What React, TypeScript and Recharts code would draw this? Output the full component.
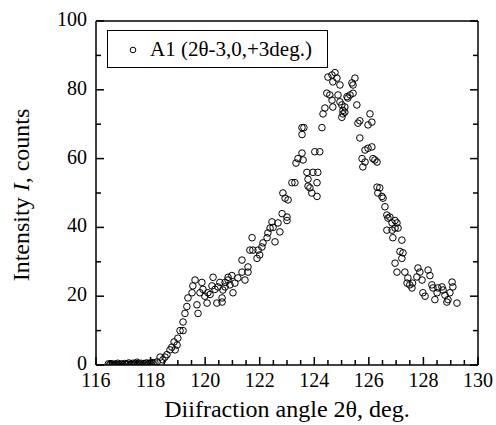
import { ScatterChart, Scatter, XAxis, YAxis, Legend, Label } from 'recharts'

type Pt = [number, number]

// 2theta (deg), counts
const baseline: Pt[] = [
  [116.45, 0.3], [116.5, 0.1], [116.55, 0.4], [116.6, 0.2], [116.65, 0.0], [116.7, 0.3],
  [116.75, 0.2], [116.8, 0.5], [116.85, 0.1], [116.9, 0.3], [116.95, 0.2], [117.0, 0.0],
  [117.05, 0.4], [117.1, 0.2], [117.15, 0.3], [117.2, 0.6], [117.25, 0.1], [117.3, 0.3],
  [117.35, 0.5], [117.4, 0.2], [117.45, 0.4], [117.5, 0.8], [117.55, 0.3], [117.6, 0.2],
  [117.65, 0.5], [117.7, 0.1], [117.75, 0.4], [117.8, 0.3], [117.85, 0.6], [117.9, 0.2],
  [117.95, 0.5], [118.0, 0.3], [118.05, 0.7], [118.1, 0.4],
]

const rise: Pt[] = [
  [118.16, 0.6], [118.24, 0.9], [118.35, 2.3], [118.45, 1.5], [118.53, 2.3], [118.6, 3.0],
  [118.71, 4.4], [118.78, 5.2], [118.86, 6.7], [118.9, 4.4], [118.97, 5.8], [119.0, 7.8],
  [119.08, 10.0], [119.19, 10.0], [119.19, 12.5], [119.26, 15.0], [119.33, 17.0], [119.37, 19.5],
]

const shoulder: Pt[] = [
  [119.52, 21.0], [119.55, 23.0], [119.63, 24.7], [119.7, 17.5], [119.74, 15.0], [119.81, 21.0],
  [119.88, 24.0], [119.92, 22.0], [119.99, 20.0], [120.07, 18.0], [120.1, 21.0], [120.18, 20.5],
  [120.25, 23.0], [120.29, 25.5], [120.36, 22.0], [120.43, 18.0], [120.47, 22.7], [120.54, 24.0],
  [120.62, 19.5], [120.65, 21.8], [120.73, 24.0], [120.84, 25.5], [120.91, 23.3], [120.98, 26.0],
]

const climb: Pt[] = [
  [120.62, 18.3], [120.73, 22.7], [120.84, 24.7], [121.02, 21.0], [121.09, 23.8], [121.2, 25.3],
  [121.35, 27.0], [121.46, 24.7], [121.57, 27.0], [121.57, 28.5], [121.35, 30.5], [121.72, 37.0],
  [121.64, 33.4], [121.75, 33.4], [121.9, 31.0], [122.0, 32.0], [121.94, 33.4], [122.08, 34.3],
  [122.12, 35.5], [122.27, 37.0], [122.3, 38.4], [122.38, 39.8], [122.45, 41.6], [122.49, 40.0],
  [122.56, 35.8], [122.67, 41.3], [122.74, 38.7], [122.82, 44.0], [123.0, 43.0], [123.0, 42.0],
  [122.93, 48.5], [123.04, 48.0], [122.85, 50.0], [123.18, 53.0], [123.29, 53.0], [123.33, 58.7],
  [123.4, 60.0],
]

const dip: Pt[] = [
  [123.55, 69.0], [123.62, 69.0], [123.55, 67.0], [123.59, 59.6], [123.55, 61.6], [123.73, 56.0],
  [123.95, 56.0], [124.13, 56.0], [123.77, 54.0], [123.84, 51.5], [123.91, 50.0], [124.1, 49.0],
  [124.1, 53.0], [123.77, 52.0],
]

const peak: Pt[] = [
  [124.28, 69.0], [124.02, 62.0], [124.2, 62.0], [124.32, 73.0], [124.39, 74.7], [124.46, 79.0],
  [124.57, 78.5], [124.68, 75.0], [124.5, 83.7], [124.65, 84.3], [124.76, 85.0], [124.83, 83.4],
  [124.68, 82.3], [124.94, 81.4], [124.87, 78.5], [124.65, 77.0], [124.94, 76.5], [125.01, 75.6],
  [125.05, 74.0], [125.12, 75.0], [125.2, 78.0], [125.23, 77.6], [125.31, 78.5], [125.38, 82.0],
  [125.42, 81.4], [125.49, 83.4], [125.42, 79.0], [125.56, 75.6], [125.05, 73.0], [125.01, 72.0],
  [125.12, 73.5],
]

const fall: Pt[] = [
  [125.6, 70.3], [125.67, 71.0], [125.67, 66.0], [125.75, 60.0], [125.78, 57.6], [125.86, 59.0],
  [125.86, 62.5], [125.97, 63.0], [125.97, 69.8], [126.04, 73.0], [126.11, 70.6], [126.11, 63.4],
  [126.15, 60.0], [126.22, 59.6], [126.3, 59.0], [126.3, 51.7], [126.4, 51.5], [126.33, 50.0],
  [126.48, 49.0], [126.52, 48.5], [126.59, 46.0], [126.66, 43.6], [126.7, 42.7], [126.77, 43.0],
  [126.85, 41.3], [126.96, 42.0], [127.03, 41.3], [127.07, 39.8], [126.96, 39.8], [126.85, 39.2],
  [126.66, 39.2], [126.88, 37.0],
]

const tail: Pt[] = [
  [127.21, 36.3], [127.14, 33.0], [127.25, 32.6], [127.21, 31.0], [126.96, 29.6], [127.03, 27.0],
  [127.32, 27.0], [127.43, 25.3], [127.4, 23.8], [127.5, 23.3], [127.6, 23.8], [127.58, 22.4],
  [127.76, 25.6], [127.8, 28.2], [127.87, 27.0], [127.95, 24.7], [127.98, 21.0], [128.06, 20.0],
  [128.17, 27.6], [128.24, 26.0], [128.31, 23.3], [128.35, 22.4], [128.42, 19.0], [128.5, 21.0],
  [128.53, 22.4], [128.68, 22.7], [128.72, 21.8], [128.79, 20.3], [128.9, 19.0], [128.86, 18.3],
  [128.97, 21.0], [129.05, 24.1], [129.08, 22.7], [129.23, 18.0],
]

const xTicks = [
  116, 116.5, 117, 117.5, 118, 118.5, 119, 119.5, 120, 120.5, 121, 121.5, 122, 122.5, 123,
  123.5, 124, 124.5, 125, 125.5, 126, 126.5, 127, 127.5, 128, 128.5, 129, 129.5, 130,
]
const xLabels = [116, 118, 120, 122, 124, 126, 128, 130]
const yTicks = [0, 10, 20, 30, 40, 50, 60, 70, 80, 90, 100]
const yLabels = [0, 20, 40, 60, 80, 100]

const seriesName = 'A1 (2θ-3,0,+3deg.)'

const points = [...baseline, ...rise, ...shoulder, ...climb, ...dip, ...peak, ...fall, ...tail].map(
  ([angle, counts]) => ({ angle, counts })
)

const FONT = '"Liberation Serif", "Times New Roman", serif'
const axisLine = { stroke: '#000', strokeWidth: 1.5 }
const textStyle = { fontFamily: FONT }

function BottomTick({ x, y, payload }: any) {
  const major = xLabels.includes(payload.value)
  return (
    <g>
      <line x1={x} y1={y} x2={x} y2={y - (major ? 8 : 5)} stroke="#000" strokeWidth={1.5} />
      {major && (
        <text x={x} y={y + 22} textAnchor="middle" fontSize={20} style={textStyle} fill="#000">
          {payload.value}
        </text>
      )}
    </g>
  )
}

function TopTick({ x, y, payload }: any) {
  const major = xLabels.includes(payload.value)
  return <line x1={x} y1={y} x2={x} y2={y + (major ? 8 : 5)} stroke="#000" strokeWidth={1.5} />
}

function LeftTick({ x, y, payload }: any) {
  const major = yLabels.includes(payload.value)
  return (
    <g>
      <line x1={x} y1={y} x2={x + (major ? 8 : 5)} y2={y} stroke="#000" strokeWidth={1.5} />
      {major && (
        <text x={x - 9} y={y + 5} textAnchor="end" fontSize={20} style={textStyle} fill="#000">
          {payload.value}
        </text>
      )}
    </g>
  )
}

function RightTick({ x, y, payload }: any) {
  const major = yLabels.includes(payload.value)
  return <line x1={x} y1={y} x2={x - (major ? 8 : 5)} y2={y} stroke="#000" strokeWidth={1.5} />
}

function OpenCircle({ cx, cy }: any) {
  return <circle cx={cx} cy={cy} r={3.3} fill="none" stroke="#000" strokeWidth={1} />
}

function LegendBox() {
  return (
    <div
      style={{
        boxSizing: 'border-box',
        width: 221,
        height: 38,
        border: '1.5px solid #000',
        display: 'flex',
        alignItems: 'center',
        fontFamily: FONT,
        fontSize: 21,
        color: '#000',
        background: '#fff',
      }}
    >
      <svg width={42} height={20} style={{ flex: 'none' }}>
        <circle cx={25} cy={11} r={2.8} fill="none" stroke="#000" strokeWidth={1} />
      </svg>
      <span style={{ whiteSpace: 'nowrap' }}>{seriesName}</span>
    </div>
  )
}

export default function App() {
  return (
    <>
      {/* drop the default body margin so the chart fills the 496x425 window */}
      <style>{'html, body { margin: 0; padding: 0; }'}</style>
      <ScatterChart width={496} height={425} margin={{ top: 16, right: 13, bottom: 20, left: 36 }}>
        <XAxis
          xAxisId="b"
          type="number"
          dataKey="angle"
          domain={[116, 130]}
          ticks={xTicks}
          interval={0}
          allowDataOverflow
          height={40}
          tickSize={0}
          tickMargin={0}
          axisLine={axisLine}
          tickLine={false}
          tick={BottomTick}
        >
          <Label
            content={() => (
              <text x={287} y={417} textAnchor="middle" fontSize={24} style={textStyle} fill="#000">
                Diifraction angle 2θ, deg.
              </text>
            )}
          />
        </XAxis>
        <XAxis
          xAxisId="t"
          orientation="top"
          type="number"
          domain={[116, 130]}
          ticks={xTicks}
          interval={0}
          allowDataOverflow
          height={5}
          tickSize={0}
          tickMargin={0}
          axisLine={axisLine}
          tickLine={false}
          tick={TopTick}
        />
        <YAxis
          yAxisId="l"
          type="number"
          dataKey="counts"
          domain={[0, 100]}
          ticks={yTicks}
          interval={0}
          allowDataOverflow
          width={60}
          tickSize={0}
          tickMargin={0}
          axisLine={axisLine}
          tickLine={false}
          tick={LeftTick}
        >
          <Label
            content={() => (
              <text
                x={29}
                y={195}
                transform="rotate(-90 29 195)"
                textAnchor="middle"
                fontSize={24}
                style={textStyle}
                fill="#000"
              >
                Intensity <tspan fontStyle="italic">I</tspan>, counts
              </text>
            )}
          />
        </YAxis>
        <YAxis
          yAxisId="r"
          orientation="right"
          type="number"
          domain={[0, 100]}
          ticks={yTicks}
          interval={0}
          allowDataOverflow
          width={5}
          tickSize={0}
          tickMargin={0}
          axisLine={axisLine}
          tickLine={false}
          tick={RightTick}
        />
        <Legend
          layout="horizontal"
          verticalAlign="middle"
          align="center"
          wrapperStyle={{ left: 107, top: 30, width: 221, height: 38 }}
          content={() => <LegendBox />}
        />
        <Scatter
          name={seriesName}
          data={points}
          xAxisId="b"
          yAxisId="l"
          shape={OpenCircle}
          isAnimationActive={false}
        />
      </ScatterChart>
    </>
  )
}
